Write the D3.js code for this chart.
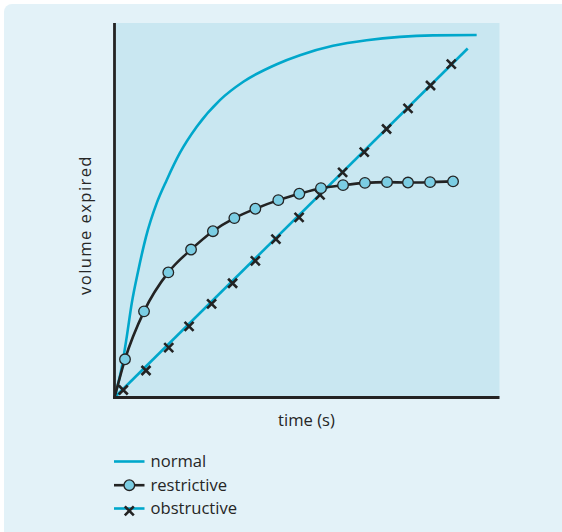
<!DOCTYPE html>
<html>
<head>
<meta charset="utf-8">
<script src="https://cdn.jsdelivr.net/npm/d3@7"></script>
<style>
  html, body { margin: 0; padding: 0; background: #ffffff; }
  svg { display: block; }
  text { font-family: "Open Sans", "DejaVu Sans", sans-serif; fill: #262626; }
</style>
</head>
<body>
<svg id="chart" width="562" height="532"></svg>
<script>
// Forced expiration: volume expired against time for three lung patterns.
// Normal curve: [time, volume]
const normalTime   = [0, 0.33, 0.56, 0.79, 1.09, 1.44, 1.93, 2.39, 2.99, 3.76, 4.82, 5.89, 7.42, 8.48, 9.99, 11.53, 13.05, 14.56, 16.56];
const normalVolume = [0, 8.0, 16.2, 25.2, 34.0, 42.9, 51.9, 58.1, 65.3, 72.3, 79.4, 84.3, 89.0, 91.4, 93.9, 95.4, 96.3, 96.7, 96.8];

// Restrictive pattern: sampled points (circles)
const restrictiveTime   = [0.48, 1.35, 2.46, 3.50, 4.50, 5.48, 6.44, 7.49, 8.45, 9.44, 10.45, 11.45, 12.46, 13.42, 14.43, 15.48];
const restrictiveVolume = [10.2, 23.0, 33.4, 39.5, 44.4, 47.9, 50.4, 52.7, 54.4, 55.9, 56.7, 57.3, 57.5, 57.4, 57.5, 57.7];

// Obstructive pattern: sampled points (crosses)
const obstructiveTime   = [0.40, 1.44, 2.48, 3.41, 4.44, 5.40, 6.44, 7.38, 8.44, 9.40, 10.43, 11.42, 12.44, 13.42, 14.45, 15.40];
const obstructiveVolume = [2.0, 7.2, 13.3, 19.0, 25.0, 30.5, 36.5, 42.3, 48.1, 54.1, 60.1, 65.5, 71.7, 77.2, 83.3, 89.0];
const obstructiveLineEnd = [16.15, 93.2];

const seriesNames = ["normal", "restrictive", "obstructive"];
const axisLabels = { x: "time (s)", y: "volume expired" };

const colors = {
  page: "#e3f2f8",
  plot: "#c9e7f1",
  cyan: "#00a7cb",
  dark: "#232323",
  dot: "#7bcde3"
};

const svg = d3.select("#chart");

// Background panel with rounded top-left corner
svg.append("rect")
  .attr("x", 4).attr("y", 4)
  .attr("width", 580).attr("height", 560)
  .attr("rx", 8)
  .attr("fill", colors.page);

const plot = { left: 114.5, right: 499.5, top: 23, bottom: 397.5 };

const x = d3.scaleLinear().domain([0, 17.6]).range([plot.left, plot.left + 17.6 * 21.87]);
const y = d3.scaleLinear().domain([0, 100]).range([plot.bottom, plot.bottom - 100 * 3.745]);

// Plot background
svg.append("rect")
  .attr("x", plot.left).attr("y", plot.top)
  .attr("width", plot.right - plot.left).attr("height", plot.bottom - plot.top)
  .attr("fill", colors.plot);

const normalData = normalTime.map((t, i) => [t, normalVolume[i]]);
const restrictiveData = [[0, 0]].concat(restrictiveTime.map((t, i) => [t, restrictiveVolume[i]]));
const obstructivePts = obstructiveTime.map((t, i) => [t, obstructiveVolume[i]]);

const smooth = d3.line()
  .x(d => x(d[0]))
  .y(d => y(d[1]))
  .curve(d3.curveMonotoneX);
const straight = d3.line()
  .x(d => x(d[0]))
  .y(d => y(d[1]));

const g = svg.append("g");

// Normal
g.append("path")
  .datum(normalData)
  .attr("d", smooth)
  .attr("fill", "none")
  .attr("stroke", colors.cyan)
  .attr("stroke-width", 2.6);

// Obstructive line
g.append("path")
  .datum([[0, 0], obstructiveLineEnd])
  .attr("d", straight)
  .attr("fill", "none")
  .attr("stroke", colors.cyan)
  .attr("stroke-width", 2.6);

// Restrictive line
g.append("path")
  .datum(restrictiveData)
  .attr("d", smooth)
  .attr("fill", "none")
  .attr("stroke", colors.dark)
  .attr("stroke-width", 2.6);

// Crosses
const crossPath = "M-4.5,-4.5L4.5,4.5M-4.5,4.5L4.5,-4.5";
g.selectAll(".cross")
  .data(obstructivePts)
  .join("path")
  .attr("class", "cross")
  .attr("transform", d => `translate(${x(d[0])},${y(d[1])})`)
  .attr("d", crossPath)
  .attr("stroke", colors.dark)
  .attr("stroke-width", 2.6)
  .attr("fill", "none");

// Circles
g.selectAll(".dot")
  .data(restrictiveData.slice(1))
  .join("circle")
  .attr("class", "dot")
  .attr("cx", d => x(d[0]))
  .attr("cy", d => y(d[1]))
  .attr("r", 5.3)
  .attr("fill", colors.dot)
  .attr("stroke", colors.dark)
  .attr("stroke-width", 1.3);

// Axes (plain lines, no ticks)
svg.append("line")
  .attr("x1", plot.left).attr("x2", plot.left)
  .attr("y1", plot.top).attr("y2", plot.bottom + 1.5)
  .attr("stroke", colors.dark).attr("stroke-width", 2.8);
svg.append("line")
  .attr("x1", plot.left - 1.4).attr("x2", plot.right)
  .attr("y1", plot.bottom).attr("y2", plot.bottom)
  .attr("stroke", colors.dark).attr("stroke-width", 3);

// Axis titles
svg.append("text")
  .attr("x", 306.5).attr("y", 426)
  .attr("text-anchor", "middle")
  .attr("font-size", 16.6)
  .text(axisLabels.x);

svg.append("text")
  .attr("transform", "translate(91,225) rotate(-90)")
  .attr("text-anchor", "middle")
  .attr("font-size", 16.6)
  .attr("letter-spacing", 1.4)
  .text(axisLabels.y);

// Legend
const legend = svg.append("g");
const legendRows = [467, 490.7, 514];
const lx0 = 114, lx1 = 144.5, lcx = 129.3;

seriesNames.forEach((name, i) => {
  const base = legendRows[i];
  const cy = base - 5.5;
  const row = legend.append("g");
  row.append("line")
    .attr("x1", lx0).attr("x2", lx1)
    .attr("y1", cy).attr("y2", cy)
    .attr("stroke", name === "restrictive" ? colors.dark : colors.cyan)
    .attr("stroke-width", 2.6);
  if (name === "restrictive") {
    row.append("circle")
      .attr("cx", lcx).attr("cy", cy).attr("r", 5.3)
      .attr("fill", colors.dot).attr("stroke", colors.dark).attr("stroke-width", 1.3);
  }
  if (name === "obstructive") {
    row.append("path")
      .attr("transform", `translate(${lcx},${cy + 2.3})`)
      .attr("d", crossPath)
      .attr("stroke", colors.dark).attr("stroke-width", 2.6).attr("fill", "none");
  }
  row.append("text")
    .attr("x", 150.5).attr("y", base)
    .attr("font-size", 16.6)
    .text(name);
});
</script>
</body>
</html>
